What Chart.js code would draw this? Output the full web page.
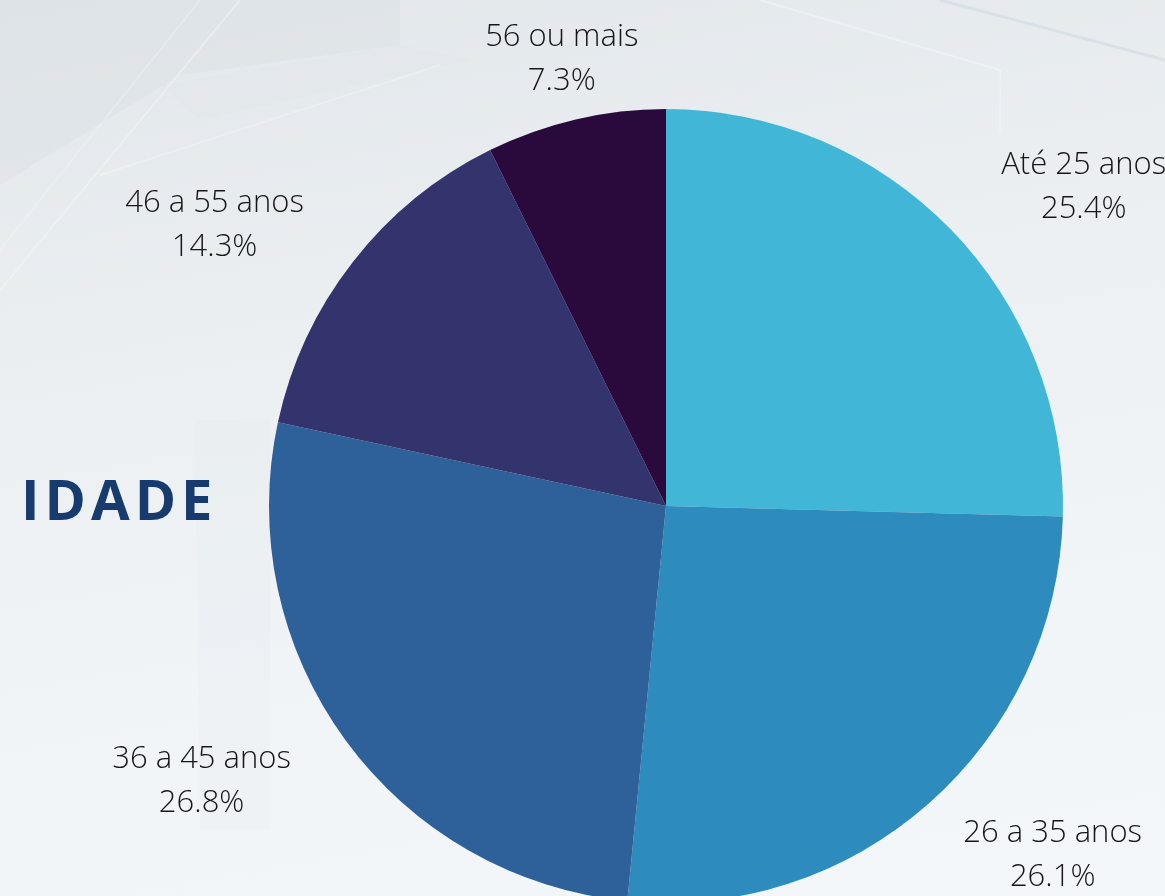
<!DOCTYPE html>
<html>
<head>
<meta charset="utf-8">
<script src="https://cdn.jsdelivr.net/npm/chart.js@4"></script>
<style>
  html, body { margin: 0; padding: 0; overflow: hidden; }
  body {
    width: 1165px; height: 896px;
    background: linear-gradient(170deg, #e2e7eb 0%, #ebeff2 35%, #f1f4f7 65%, #f4f7fa 100%);
    position: relative;
    font-family: "Open Sans", sans-serif;
  }
  .bg { position: absolute; left: 0; top: 0; }
  .chart-wrap { position: absolute; left: 0; top: 0; width: 1165px; height: 910px; }
  .title {
    position: absolute; left: 21px; top: 460px;
    font-size: 56px; font-weight: 700; letter-spacing: 5px;
    color: #173a6f;
  }
</style>
</head>
<body>
<svg class="bg" width="1165" height="896">
  <polygon points="0,0 400,0 400,45 180,75 0,185" fill="#d9dee3" opacity="0.4"/>
  <polygon points="160,85 400,45 470,60 200,120" fill="#dfe4e8" opacity="0.3"/>
  <line x1="240" y1="0" x2="0" y2="290" stroke="#f6f8fa" stroke-width="2" opacity="0.45"/>
  <line x1="200" y1="0" x2="0" y2="250" stroke="#f6f8fa" stroke-width="2" opacity="0.3"/>
  <line x1="100" y1="175" x2="440" y2="65" stroke="#f6f8fa" stroke-width="2" opacity="0.4"/>
  <line x1="760" y1="0" x2="1000" y2="70" stroke="#f6f8fa" stroke-width="2" opacity="0.5"/>
  <line x1="1000" y1="70" x2="1000" y2="130" stroke="#f6f8fa" stroke-width="2" opacity="0.5"/>
  <line x1="940" y1="0" x2="1165" y2="60" stroke="#cfdbe4" stroke-width="3" opacity="0.6"/>
  <polygon points="195,420 270,420 270,830 200,830" fill="#e6eaee" opacity="0.3"/>
</svg>
<div class="title">IDADE</div>
<div class="chart-wrap"><canvas id="pie-chart" width="1165" height="910"></canvas></div>
<script>
const ageGroups = ['Até 25 anos', '26 a 35 anos', '36 a 45 anos', '46 a 55 anos', '56 ou mais'];
const percentages = [25.4, 26.1, 26.8, 14.3, 7.3];
const sliceColors = ['#41b6d6', '#2d8bbd', '#2e609a', '#33336e', '#2a0a3d'];

// draws "label / value%" outside each slice
const outsideLabels = {
    id: 'outsideLabels',
    afterDatasetsDraw(chart) {
        const ctx = chart.ctx;
        const meta = chart.getDatasetMeta(0);
        ctx.save();
        ctx.font = '300 31px "Open Sans"';
        ctx.fillStyle = '#161616';
        ctx.textAlign = 'center';
        ctx.textBaseline = 'middle';
        meta.data.forEach((arc, i) => {
            const p = arc.getProps(['x', 'y', 'startAngle', 'endAngle', 'outerRadius'], true);
            const mid = (p.startAngle + p.endAngle) / 2;
            const c = Math.cos(mid), s = Math.sin(mid);
            const lines = [ageGroups[i], percentages[i].toFixed(1) + '%'];
            const hw = Math.max(...lines.map(t => ctx.measureText(t).width)) / 2;
            const px = p.x + c * p.outerRadius;
            const py = p.y + s * p.outerRadius;
            const lx = px + c * hw + c * Math.abs(c) * 125 + 10;
            const ly = py + s * 65 + 3;
            ctx.fillText(lines[0], lx, ly - 22);
            ctx.fillText(lines[1], lx, ly + 22);
        });
        ctx.restore();
    }
};

const ctxPie = document.getElementById('pie-chart').getContext('2d');
const pieChart = new Chart(ctxPie, {
    type: 'pie',
    data: {
        labels: ageGroups,
        datasets: [{
            data: percentages,
            backgroundColor: sliceColors,
            borderWidth: 0
        }]
    },
    options: {
        responsive: false,
        animation: false,
        events: [],
        layout: { padding: { left: 269, right: 102, top: 109, bottom: 7 } },
        plugins: {
            legend: { display: false },
            tooltip: { enabled: false }
        }
    },
    plugins: [outsideLabels]
});
</script>
</body>
</html>
